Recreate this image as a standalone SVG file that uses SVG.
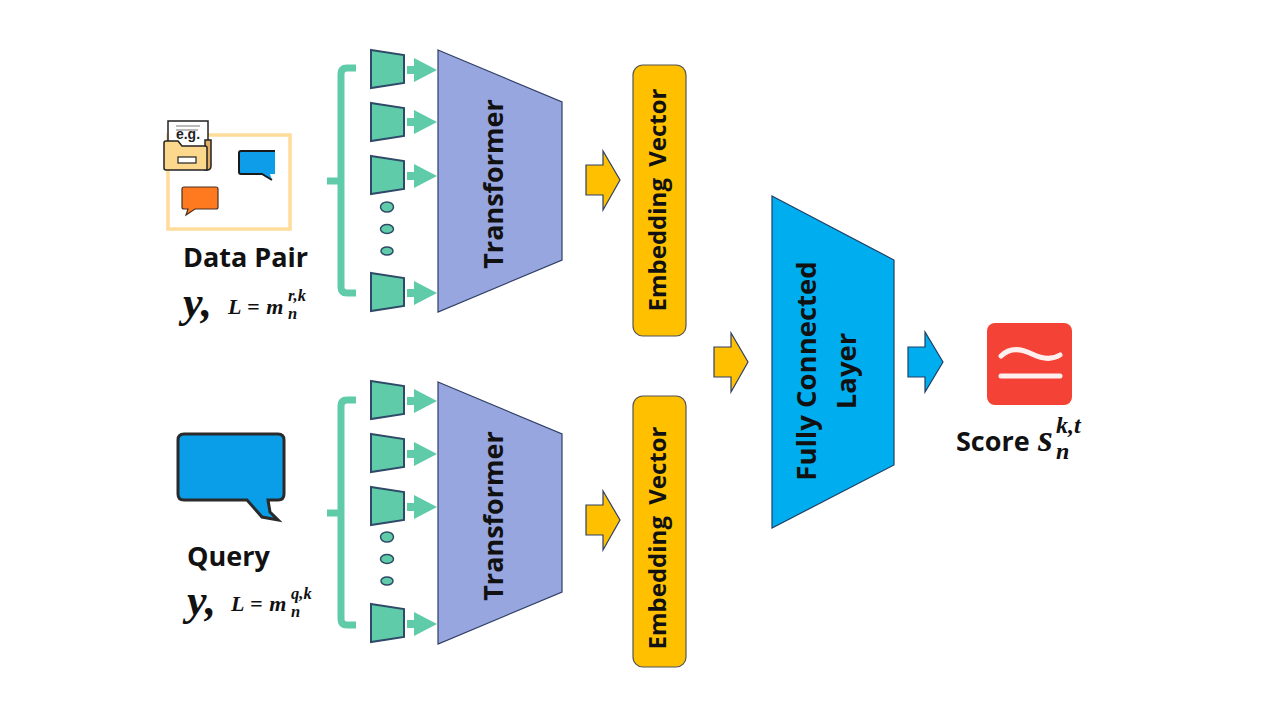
<svg xmlns="http://www.w3.org/2000/svg" width="1280" height="720" viewBox="0 0 1280 720">
<style>
.t{font-family:"Open Sans","Liberation Sans",sans-serif;font-weight:700;fill:#111}
.m{font-family:"Liberation Serif","DejaVu Serif",serif;font-weight:700;font-style:italic;fill:#111}
.trap{fill:#5FCBA8;stroke:#2F4A68;stroke-width:2}
.tf{fill:#98A6E0;stroke:#2F3F66;stroke-width:1.2}
.emb{fill:#FFC000;stroke:#555;stroke-width:1.2}
.ya{fill:#FFC000;stroke:#2F3F66;stroke-width:1.2}
.brace{fill:none;stroke:#5FCBA8;stroke-width:7}
.dot{fill:#5FCBA8;stroke:#2F4A68;stroke-width:1.5}
.ga{fill:#5FCBA8}
</style>
<defs>
<polygon id="trap" class="trap" points="371,50 404,55 404,83 371,88"/>
<polygon id="ga" class="ga" points="407,66 414,66 414,58 437,70 414,82 414,74 407,74"/>
<path id="brace" class="brace" d="M356,68H347Q341,68 341,74V287Q341,293 347,293H356M327,181H341"/>
<polygon id="tf" class="tf" points="438,50 562,102 562,260 438,312"/>
<polygon id="ya" points="586,165 603,165 603,151 620,180 603,210 603,195 586,195"/>
</defs>
<rect width="1280" height="720" fill="#fff"/>
<g id="connectors">
<use href="#brace"/>
<use href="#brace" y="332"/>
<use href="#ga"/><use href="#ga" y="52"/><use href="#ga" y="106"/><use href="#ga" y="223"/>
<use href="#ga" y="331"/><use href="#ga" y="384"/><use href="#ga" y="437"/><use href="#ga" y="554"/>
<use href="#ya" class="ya"/>
<use href="#ya" class="ya" y="340"/>
<use href="#ya" class="ya" x="128" y="182"/>
<polygon points="908,347 925,347 925,332 943,362 925,392 925,377 908,377" fill="#00AEEF" stroke="#1F3F66" stroke-width="1.2"/>
</g>
<g id="input-data-pair">
<rect x="168" y="135" width="122" height="94" fill="none" stroke="#FFDC9A" stroke-width="3.5"/>
<rect x="168" y="121" width="40" height="34" fill="#fff" stroke="#222" stroke-width="1.5"/>
<path d="M176,126H200M176,130H198" stroke="#777" stroke-width="1.2"/>
<text x="188" y="139" text-anchor="middle" font-family="Liberation Sans,sans-serif" font-weight="700" font-size="14" fill="#222">e.g.</text>
<path d="M205,140H211V166Q211,170 207,170H205Z" fill="#E0B060" stroke="#222" stroke-width="1.5"/>
<path d="M164,143Q164,141 166,141H178L182,146H205Q207,146 207,148V170H166Q164,170 164,168Z" fill="#FCD88C" stroke="#222" stroke-width="1.5"/>
<rect x="178" y="157" width="18" height="6" fill="#fff" stroke="#222" stroke-width="1.2"/>
<path d="M275,151H241Q239,151 239,153V172Q239,174 241,174H262L272,180L270,174H275Z" fill="#0E9DE8"/>
<path d="M275,151H241Q239,151 239,153V172Q239,174 241,174H262L272,180" fill="none" stroke="#1A1A1A" stroke-width="2"/>
<path d="M184,187H216Q218,187 218,189V207Q218,209 216,209H195L186,215L188,209H184Q182,209 182,207V189Q182,187 184,187Z" fill="#FF7A1F" stroke="#4A3020" stroke-width="1.2"/>
<text class="t" x="183" y="267" font-size="27">Data Pair</text>
<text class="m" x="183" y="317" font-size="44">y,</text>
<text class="m" x="228" y="314" font-size="22" word-spacing="1">L = m</text>
<text class="m" x="288" y="301" font-size="16.5">r,k</text>
<text class="m" x="288" y="319" font-size="16.5">n</text>
</g>
<g id="input-query">
<path d="M184,434H278Q284,434 284,440V494Q284,500 278,500H268L270,512L278,520L262,517L247,500H184Q178,500 178,494V440Q178,434 184,434Z" fill="#0A9DE8" stroke="#2A2A2A" stroke-width="3"/>
<text class="t" x="187" y="566" font-size="27">Query</text>
<text class="m" x="187" y="615" font-size="44">y,</text>
<text class="m" x="231" y="611" font-size="22" word-spacing="1">L = m</text>
<text class="m" x="291" y="599" font-size="16.5">q,k</text>
<text class="m" x="291" y="617" font-size="16.5">n</text>
</g>
<g id="patches-top">
<use href="#trap"/><use href="#trap" y="53"/><use href="#trap" y="106"/><use href="#trap" y="223"/>
<ellipse class="dot" cx="387" cy="207" rx="6.5" ry="5"/><ellipse class="dot" cx="387" cy="229" rx="6.5" ry="4.5"/><ellipse class="dot" cx="387" cy="251" rx="6" ry="4"/>
</g>
<g id="patches-bottom">
<use href="#trap" y="331"/><use href="#trap" y="384"/><use href="#trap" y="437"/><use href="#trap" y="554"/>
<ellipse class="dot" cx="387" cy="537" rx="6.5" ry="5"/><ellipse class="dot" cx="387" cy="559" rx="6.5" ry="4.5"/><ellipse class="dot" cx="387" cy="581" rx="6" ry="4"/>
</g>
<g id="transformer-top">
<use href="#tf"/>
<text class="t" font-size="27" text-anchor="middle" transform="translate(503,184) rotate(-90)">Transformer</text>
</g>
<g id="transformer-bottom">
<use href="#tf" y="332"/>
<text class="t" font-size="27" text-anchor="middle" transform="translate(503,516) rotate(-90)">Transformer</text>
</g>
<g id="embedding-top">
<rect class="emb" x="633" y="65" width="53" height="271" rx="10"/>
<text class="t" font-size="24" word-spacing="5" text-anchor="middle" transform="translate(666,200) rotate(-90)">Embedding Vector</text>
</g>
<g id="embedding-bottom">
<rect class="emb" x="633" y="396" width="53" height="271" rx="10"/>
<text class="t" font-size="24" word-spacing="5" text-anchor="middle" transform="translate(666,538) rotate(-90)">Embedding Vector</text>
</g>
<g id="fully-connected">
<polygon points="772,196 894,260 894,465 772,528" fill="#00AEEF" stroke="#1F3F66" stroke-width="1.2"/>
<text class="t" font-size="27.5" text-anchor="middle" transform="translate(816,371) rotate(-90)">Fully Connected</text>
<text class="t" font-size="27.5" text-anchor="middle" transform="translate(856,371) rotate(-90)">Layer</text>
</g>
<g id="score">
<rect x="987" y="323" width="85" height="82" rx="8" fill="#F44336"/>
<path d="M1001,356C1010,347 1022,349 1032,354C1042,359 1052,360 1060,355M1001,376H1060" fill="none" stroke="#fff" stroke-width="5" stroke-linecap="round" opacity=".92"/>
<text class="t" x="956" y="451" font-size="27">Score</text>
<text class="m" x="1038" y="451" font-size="38">s</text>
<text class="m" x="1056" y="433" font-size="24">k,t</text>
<text class="m" x="1056" y="459" font-size="24">n</text>
</g>
</svg>
